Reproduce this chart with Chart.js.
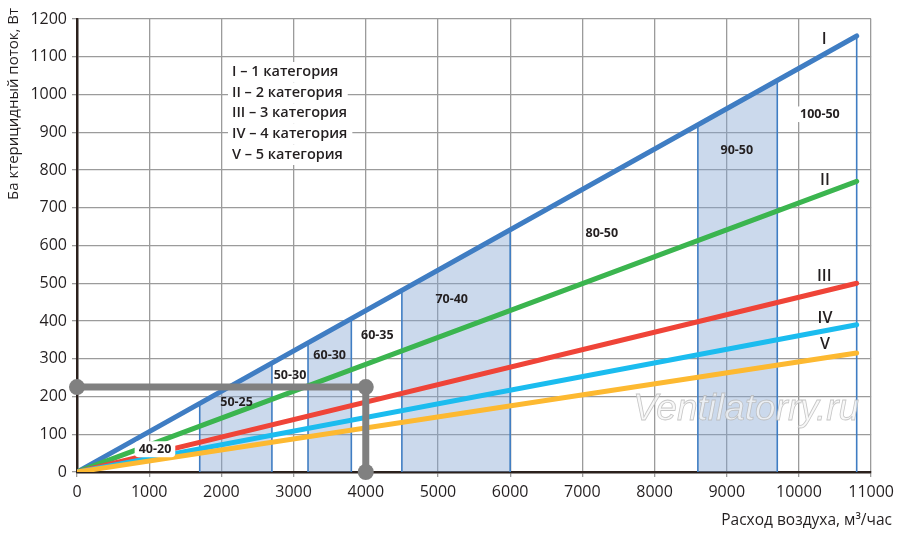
<!DOCTYPE html>
<html>
<head>
<meta charset="utf-8">
<script src="https://cdn.jsdelivr.net/npm/chart.js@4.4.0/dist/chart.umd.min.js"></script>
<style>
  html, body { margin: 0; padding: 0; background: #fff; }
</style>
</head>
<body>
<canvas id="myChart" width="900" height="535"></canvas>
<script>
// Данные графика
const airflow = [0, 10800];          // расход воздуха, м3/час
const cat1 = [0, 1155];              // I категория, Вт
const cat2 = [0, 770];               // II
const cat3 = [0, 500];               // III
const cat4 = [0, 390];               // IV
const cat5 = [0, 315];               // V
const bandStart = [1700, 3200, 4500, 8600];
const bandEnd = [2700, 3800, 6000, 9700];
const lastEdge = 10800;
const exampleFlow = [0, 4000, 4000];
const examplePower = [225, 225, 0];
const rangeLabels = ['40-20', '50-25', '50-30', '60-30', '60-35', '70-40', '80-50', '90-50', '100-50'];
const categoryNames = ['I', 'II', 'III', 'IV', 'V'];
const legendLines = ['I – 1 категория', 'II – 2 категория', 'III – 3 категория', 'IV – 4 категория', 'V – 5 категория'];
const xTicks = [0, 1000, 2000, 3000, 4000, 5000, 6000, 7000, 8000, 9000, 10000, 11000];
const yTicks = [0, 100, 200, 300, 400, 500, 600, 700, 800, 900, 1000, 1100, 1200];

// Где стоят подписи (в единицах осей)
const rangeLabelPos = [[1080, 60], [2210, 185], [2950, 256], [3500, 309], [4160, 362], [5190, 456], [7270, 633], [9140, 852], [10290, 948]];
const rangeLabelBg = [true, false, false, false, false, false, false, false, true];
const categoryLabelPos = [[10350, 1145], [10360, 772], [10350, 518], [10360, 408], [10360, 337]];

const textColor = '#231f20';
const lineColors = ['#3f7dc3', '#3bb54f', '#ef4438', '#1bbcef', '#fdb931'];
const cats = [cat1, cat2, cat3, cat4, cat5];

function toPoints(xs, ys) {
  return xs.map(function(x, i) { return { x: x, y: ys[i] }; });
}

// высота линии I в точке x (по её же точкам)
function lineIAt(x) {
  for (var i = 1; i < airflow.length; i++) {
    if (x <= airflow[i]) {
      var t = (x - airflow[i - 1]) / (airflow[i] - airflow[i - 1]);
      return cat1[i - 1] + t * (cat1[i] - cat1[i - 1]);
    }
  }
  return cat1[cat1.length - 1];
}

var datasets = [];

// закрашенные полосы
bandStart.forEach(function(a, i) {
  var b = bandEnd[i];
  datasets.push({
    data: [{ x: a, y: 0 }, { x: a, y: lineIAt(a) }, { x: b, y: lineIAt(b) }, { x: b, y: 0 }],
    showLine: true,
    fill: 'origin',
    backgroundColor: 'rgba(132,165,210,0.42)',
    borderColor: '#3f7dc3',
    borderWidth: 1.6,
    pointRadius: 0,
    order: 10
  });
});
datasets.push({
  data: [{ x: lastEdge, y: 0 }, { x: lastEdge, y: lineIAt(lastEdge) }],
  showLine: true,
  borderColor: '#3f7dc3',
  borderWidth: 1.6,
  pointRadius: 0,
  order: 10
});

// линии категорий
cats.forEach(function(c, i) {
  datasets.push({
    data: toPoints(airflow, c),
    showLine: true,
    borderColor: lineColors[i],
    borderWidth: 5,
    borderCapStyle: 'round',
    pointRadius: 0,
    order: 5 - i
  });
});

// пример: 4000 м3/час -> 225 Вт
datasets.push({
  data: toPoints(exampleFlow, examplePower),
  showLine: true,
  borderColor: '#808080',
  borderWidth: 7,
  pointRadius: 8,
  pointBackgroundColor: '#808080',
  pointBorderWidth: 0,
  clip: false,
  order: 0
});

function drawText(ctx, text, x, y, font, bg) {
  ctx.font = font;
  ctx.textAlign = 'center';
  ctx.textBaseline = 'middle';
  if (bg) {
    var w = ctx.measureText(text).width;
    ctx.fillStyle = '#fff';
    ctx.beginPath();
    ctx.roundRect(x - w / 2 - 4, y - 8, w + 8, 16, 4);
    ctx.fill();
  }
  ctx.fillStyle = textColor;
  ctx.fillText(text, x, y);
}

const decor = {
  id: 'decor',
  afterDatasetsDraw: function(chart) {
    var ctx = chart.ctx;
    var sx = chart.scales.x, sy = chart.scales.y;
    ctx.save();

    rangeLabels.forEach(function(t, i) {
      var p = rangeLabelPos[i];
      drawText(ctx, t, sx.getPixelForValue(p[0]), sy.getPixelForValue(p[1]), 'bold 12.5px "Open Sans"', rangeLabelBg[i]);
    });

    categoryNames.forEach(function(t, i) {
      var p = categoryLabelPos[i];
      drawText(ctx, t, sx.getPixelForValue(p[0]), sy.getPixelForValue(p[1]), '600 16px "Open Sans"', false);
    });

    // блок с расшифровкой категорий
    ctx.font = '600 14.5px "Open Sans"';
    ctx.textAlign = 'left';
    ctx.textBaseline = 'middle';
    legendLines.forEach(function(t, i) {
      var y = 72 + i * 20.6;
      var w = ctx.measureText(t).width;
      ctx.fillStyle = '#fff';
      ctx.fillRect(228, y - 10, w + 9, 20.6);
      ctx.fillStyle = textColor;
      ctx.fillText(t, 232, y);
    });

    // водяной знак
    ctx.font = 'italic 37px "Liberation Sans"';
    ctx.textAlign = 'left';
    ctx.textBaseline = 'alphabetic';
    ctx.fillStyle = 'rgba(246,246,246,0.75)';
    ctx.fillText('Ventilatorry.ru', 633, 420);
    ctx.strokeStyle = 'rgba(180,180,180,0.75)';
    ctx.lineWidth = 0.8;
    ctx.strokeText('Ventilatorry.ru', 633, 420);
    ctx.restore();
  },
  afterDraw: function(chart) {
    var ctx = chart.ctx;
    ctx.save();
    ctx.fillStyle = textColor;
    ctx.font = '15.5px "Open Sans"';
    ctx.textAlign = 'right';
    ctx.textBaseline = 'middle';
    ctx.fillText('Расход воздуха, м³/час', 892, 521);
    ctx.font = '15px "Open Sans"';
    ctx.translate(14, 104);
    ctx.rotate(-Math.PI / 2);
    ctx.textAlign = 'center';
    ctx.fillText('Ба ктерицидный поток, Вт', 0, 0);
    ctx.restore();
  }
};

const ctx = document.getElementById('myChart');

new Chart(ctx, {
  type: 'scatter',
  data: { datasets: datasets },
  options: {
    responsive: false,
    animation: false,
    layout: { padding: { top: 19, right: 28, left: 0, bottom: 0 } },
    plugins: { legend: { display: false }, tooltip: { enabled: false } },
    scales: {
      x: {
        type: 'linear',
        min: 0,
        max: 11000,
        afterBuildTicks: function(scale) { scale.ticks = xTicks.map(function(v) { return { value: v }; }); },
        afterFit: function(scale) { scale.height = 63; },
        ticks: {
          autoSkip: false,
          maxRotation: 0,
          padding: 6,
          color: textColor,
          font: { family: 'Open Sans', size: 16 },
          callback: function(v) { return String(v); }
        },
        grid: { color: '#9b9b9b', lineWidth: 1.3, tickLength: 5, tickColor: '#9b9b9b' },
        border: { color: '#2b211d', width: 2.5 }
      },
      y: {
        type: 'linear',
        min: 0,
        max: 1200,
        afterBuildTicks: function(scale) { scale.ticks = yTicks.map(function(v) { return { value: v }; }); },
        afterFit: function(scale) { scale.width = 77; },
        ticks: {
          padding: 5,
          color: textColor,
          font: { family: 'Open Sans', size: 16 },
          callback: function(v) { return String(v); }
        },
        grid: { color: '#9b9b9b', lineWidth: 1.3, tickLength: 5, tickColor: '#9b9b9b' },
        border: { color: '#2b211d', width: 2.5 }
      }
    }
  },
  plugins: [decor]
});
</script>
</body>
</html>
